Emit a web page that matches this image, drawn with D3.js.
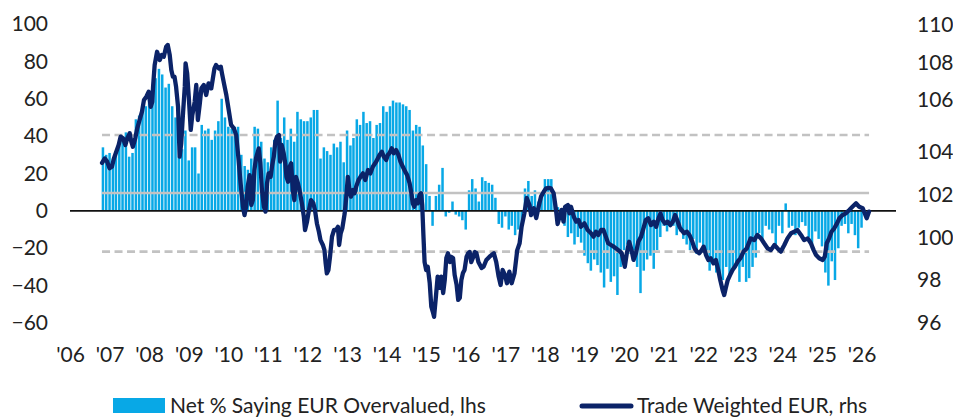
<!DOCTYPE html>
<html>
<head>
<meta charset="utf-8">
<script src="https://cdn.jsdelivr.net/npm/d3@7"></script>
<style>
  body { margin: 0; background: #fff; }
  svg text { font-family: Lato, "Open Sans", sans-serif; fill: #222; }
</style>
</head>
<body>
<svg id="chart" width="953" height="420"></svg>
<script>
// Fund manager survey: net % saying EUR is overvalued (monthly, from Nov 2006)
const surveyStart = "2006-11-01";
const surveyNet = [
  34, 30,
  31, 28, 32, 35, 38, 42, 29, 31, 49, 51, 53, 56,
  61, 65, 71, 76, 73, 66, 68, 56, 50, 29, 33, 43,
  27, 34, 34, 20, 46, 43, 44, 38, 43, 48, 60, 50,
  45, 44, 45, 45, 30, 24, 22, 28, 45, 44, 37, 28,
  26, 34, 38, 59, 39, 50, 38, 44, 37, 53, 49, 48,
  48, 50, 54, 54, 28, 34, 32, 30, 36, 34, 37, 26,
  43, 35, 39, 49, 46, 53, 47, 48, 39, 46, 47, 56,
  53, 56, 59, 58, 58, 57, 56, 54, 43, 46, 45, 35,
  25, 8, -8, 8, 14, 23, -3, -1, 5, -2, -3, -5,
  -10, 11, 17, 12, 5, 18, 16, 15, 14, 7, -7, -9,
  -3, -10, -8, -13, -10, -8, 12, 16, 8, 11, 5, 9,
  17, 17, 17, 7, 2, -3, -8, -14, -12, -18, -14, -17,
  -24, -28, -32, -26, -29, -33, -41, -31, -38, -35, -45, -30,
  -21, -18, -23, -26, -30, -44, -32, -26, -24, -31, -21, -14,
  -8, -11, -7, -8, -13, -11, -15, -18, -21, -15, -23, -17,
  -20, -24, -32, -27, -33, -34, -37, -30, -35, -31, -29, -38,
  -30, -38, -36, -30, -25, -12, -16, -8, -10, -12, -18, -8,
  -12, 4, -9, -8, -13, -9, -6, -8, -14, -20, -11, -15,
  -19, -33, -40, -27, -37, -20, -8, -7, -12, -7, -13, -20,
  -9
];

// Trade weighted EUR index: [decimal year, level]
const twEur = [
  [2006.81,103.49],[2006.88,103.70],[2006.94,103.55],[2007.00,103.24],[2007.06,103.31],[2007.11,103.70],
  [2007.17,104.01],[2007.23,104.27],[2007.28,104.59],[2007.34,104.53],[2007.40,104.27],[2007.45,104.53],
  [2007.51,104.72],[2007.55,104.40],[2007.59,104.20],[2007.65,104.53],[2007.70,104.91],[2007.76,105.23],
  [2007.82,105.55],[2007.87,106.00],[2007.93,106.18],[2007.99,106.45],[2008.04,105.74],[2008.08,105.93],
  [2008.10,106.72],[2008.14,107.89],[2008.20,108.59],[2008.27,108.16],[2008.32,108.42],[2008.37,108.33],
  [2008.43,108.86],[2008.47,108.95],[2008.52,108.42],[2008.56,107.62],[2008.60,107.26],[2008.64,107.26],
  [2008.68,106.72],[2008.73,105.74],[2008.77,103.78],[2008.81,104.33],[2008.85,105.36],[2008.90,106.72],
  [2008.92,107.98],[2008.96,107.44],[2009.00,106.18],[2009.05,104.85],[2009.09,105.42],[2009.15,105.93],
  [2009.19,106.81],[2009.23,105.23],[2009.28,105.87],[2009.32,106.63],[2009.38,106.81],[2009.44,106.27],
  [2009.50,106.90],[2009.57,106.63],[2009.61,107.17],[2009.65,107.71],[2009.69,107.89],[2009.76,107.71],
  [2009.81,107.80],[2009.84,107.44],[2009.89,106.90],[2009.95,106.27],[2010.01,105.62],[2010.07,105.04],
  [2010.14,104.91],[2010.20,104.65],[2010.26,103.63],[2010.31,102.54],[2010.37,101.44],[2010.41,101.05],
  [2010.45,101.44],[2010.49,102.38],[2010.54,102.92],[2010.58,101.52],[2010.62,101.75],[2010.66,103.16],
  [2010.70,103.70],[2010.77,104.14],[2010.81,103.47],[2010.85,102.22],[2010.90,101.44],[2010.94,101.21],
  [2010.98,102.54],[2011.02,103.00],[2011.07,102.84],[2011.11,103.39],[2011.15,103.78],[2011.19,104.40],
  [2011.23,104.59],[2011.28,104.65],[2011.31,103.55],[2011.35,104.27],[2011.40,103.94],[2011.44,103.47],
  [2011.47,102.84],[2011.51,102.61],[2011.55,103.31],[2011.59,103.47],[2011.63,102.22],[2011.67,101.75],
  [2011.71,102.84],[2011.76,102.54],[2011.80,102.22],[2011.86,101.60],[2011.91,100.97],[2011.94,100.35],
  [2011.99,100.74],[2012.04,101.29],[2012.09,101.75],[2012.15,101.60],[2012.19,101.29],[2012.24,100.66],
  [2012.29,100.27],[2012.33,99.88],[2012.39,99.65],[2012.43,99.41],[2012.46,98.79],[2012.49,98.32],
  [2012.53,98.48],[2012.57,99.10],[2012.62,100.04],[2012.67,100.35],[2012.72,100.35],[2012.77,100.50],
  [2012.80,99.65],[2012.84,100.20],[2012.88,100.43],[2012.94,101.13],[2012.98,101.91],[2013.02,102.84],
  [2013.06,102.22],[2013.10,101.91],[2013.15,102.22],[2013.19,102.07],[2013.23,102.38],[2013.29,102.69],
  [2013.34,102.84],[2013.40,103.00],[2013.46,102.69],[2013.53,103.16],[2013.59,103.00],[2013.65,103.31],
  [2013.71,103.47],[2013.76,103.63],[2013.82,103.86],[2013.88,104.01],[2013.93,103.78],[2013.99,103.63],
  [2014.03,103.86],[2014.07,103.94],[2014.13,104.14],[2014.18,103.94],[2014.24,104.08],[2014.30,103.86],
  [2014.35,103.55],[2014.41,103.31],[2014.47,103.08],[2014.52,102.92],[2014.58,102.54],[2014.62,102.14],
  [2014.66,101.60],[2014.70,101.44],[2014.74,101.75],[2014.79,101.60],[2014.83,101.99],[2014.87,102.07],
  [2014.90,101.52],[2014.93,100.12],[2014.96,98.85],[2015.00,98.48],[2015.04,98.63],[2015.09,97.87],
  [2015.13,96.76],[2015.17,96.51],[2015.20,96.29],[2015.25,97.31],[2015.29,98.17],[2015.34,97.64],
  [2015.38,98.17],[2015.43,97.40],[2015.47,98.01],[2015.51,99.04],[2015.55,99.26],[2015.60,98.85],
  [2015.63,99.10],[2015.68,99.04],[2015.72,98.25],[2015.77,97.78],[2015.81,97.08],[2015.85,97.17],
  [2015.89,98.01],[2015.93,98.34],[2015.97,98.48],[2016.02,99.09],[2016.06,99.26],[2016.10,99.32],
  [2016.14,98.85],[2016.18,99.04],[2016.23,99.32],[2016.27,99.27],[2016.32,98.85],[2016.40,98.57],
  [2016.45,98.63],[2016.52,98.95],[2016.60,99.10],[2016.65,99.18],[2016.71,99.26],[2016.77,98.85],
  [2016.83,98.17],[2016.88,97.78],[2016.93,98.48],[2016.99,98.25],[2017.04,97.86],[2017.10,98.40],
  [2017.16,97.86],[2017.23,98.32],[2017.30,99.41],[2017.36,99.73],[2017.41,100.50],[2017.48,101.13],
  [2017.54,101.85],[2017.61,101.52],[2017.65,101.05],[2017.72,101.37],[2017.78,100.91],[2017.84,101.44],
  [2017.90,101.91],[2017.97,102.14],[2018.03,102.30],[2018.10,102.32],[2018.15,102.30],[2018.22,102.07],
  [2018.28,101.29],[2018.32,100.63],[2018.37,100.97],[2018.42,101.29],[2018.47,100.74],[2018.51,101.44],
  [2018.58,101.52],[2018.62,101.13],[2018.66,101.44],[2018.73,100.97],[2018.79,100.74],[2018.85,100.82],
  [2018.91,100.50],[2019.00,100.66],[2019.08,100.35],[2019.16,100.21],[2019.23,100.04],[2019.29,100.27],
  [2019.35,100.12],[2019.42,100.35],[2019.48,100.35],[2019.54,100.04],[2019.60,99.73],[2019.67,99.65],
  [2019.74,99.57],[2019.80,99.49],[2019.88,99.37],[2019.94,99.27],[2020.02,98.63],[2020.07,99.26],
  [2020.13,99.80],[2020.19,99.41],[2020.24,98.95],[2020.30,99.26],[2020.36,99.80],[2020.43,100.04],
  [2020.50,100.50],[2020.55,100.82],[2020.61,100.90],[2020.68,100.58],[2020.75,100.74],[2020.81,100.50],
  [2020.87,100.90],[2020.92,101.13],[2020.97,100.82],[2021.03,100.66],[2021.10,100.74],[2021.17,100.58],
  [2021.23,100.74],[2021.29,101.05],[2021.34,100.82],[2021.40,100.50],[2021.45,100.35],[2021.52,100.20],
  [2021.59,100.27],[2021.65,100.12],[2021.71,99.88],[2021.78,99.49],[2021.84,99.34],[2021.90,99.26],
  [2021.96,99.41],[2022.01,99.57],[2022.07,99.18],[2022.13,98.95],[2022.19,99.03],[2022.26,98.79],
  [2022.32,98.95],[2022.38,98.48],[2022.43,98.01],[2022.49,97.54],[2022.53,97.31],[2022.57,97.64],
  [2022.62,98.01],[2022.68,98.25],[2022.74,98.48],[2022.80,98.63],[2022.87,98.87],[2022.94,99.03],
  [2023.02,99.34],[2023.10,99.49],[2023.20,99.96],[2023.29,99.88],[2023.37,100.12],[2023.46,99.96],
  [2023.54,99.73],[2023.63,99.49],[2023.71,99.41],[2023.80,99.65],[2023.88,99.49],[2023.96,99.34],
  [2024.05,99.65],[2024.13,99.96],[2024.22,100.20],[2024.30,100.27],[2024.38,100.35],[2024.47,100.12],
  [2024.55,99.88],[2024.64,99.96],[2024.72,99.73],[2024.79,99.41],[2024.85,99.18],[2024.93,99.03],
  [2025.02,98.95],[2025.07,99.10],[2025.12,99.73],[2025.18,99.96],[2025.24,100.27],[2025.31,100.43],
  [2025.38,100.66],[2025.44,100.90],[2025.52,101.05],[2025.60,101.13],[2025.69,101.29],[2025.77,101.44],
  [2025.86,101.60],[2025.94,101.44],[2026.03,101.37],[2026.08,101.13],[2026.13,100.90],[2026.19,101.21]
];

const leftTicks = [100, 80, 60, 40, 20, 0, -20, -40, -60];
const rightTicks = [110, 108, 106, 104, 102, 100, 98, 96];
const yearTicks = d3.range(2006, 2027);
// survey average and +/- one standard deviation
const surveyMean = 9.6;
const surveyBand = [40.6, -21.8];

const legendLabels = ["Net % Saying EUR Overvalued, lhs", "Trade Weighted EUR, rhs"];

const colors = { bar: "#08a8e6", line: "#0b2368", ref: "#c2c2c2", zero: "#111" };

function fromDecimalYear(t) {
  const y = Math.floor(t);
  const a = new Date(y, 0, 1), b = new Date(y + 1, 0, 1);
  return new Date(+a + (t - y) * (b - a));
}

const svg = d3.select("#chart");

const x = d3.scaleTime()
  .domain([new Date(2006, 0, 1), new Date(2026, 10, 15)])
  .range([70, 896]);

const yL = d3.scaleLinear().domain([-60, 100]).range([323, 24]);
const yR = d3.scaleLinear()
  .domain([96, 104, 106, 108, 110])
  .range([323, 152, 100, 63, 25]);

const months = surveyNet.map((v, i) => d3.timeMonth.offset(new Date(surveyStart + "T00:00:00"), i));
const linePts = twEur.map(([t, v]) => ({ date: fromDecimalYear(t), value: v }));

const firstDate = linePts[0].date, lastDate = linePts[linePts.length - 1].date;

// bars
const barW = 2.5;
svg.append("g").selectAll("rect")
  .data(surveyNet)
  .join("rect")
  .attr("x", (d, i) => x(months[i]) - barW / 2)
  .attr("width", barW)
  .attr("y", d => Math.min(yL(d), yL(0)))
  .attr("height", d => Math.abs(yL(d) - yL(0)))
  .attr("fill", colors.bar);

// mean and +/- 1 sd reference lines
const refs = svg.append("g");
refs.append("line")
  .attr("x1", x(firstDate)).attr("x2", x(lastDate))
  .attr("y1", yL(surveyMean)).attr("y2", yL(surveyMean))
  .attr("stroke", colors.ref).attr("stroke-width", 2.6);
refs.selectAll("line.band")
  .data(surveyBand)
  .join("line")
  .attr("class", "band")
  .attr("x1", x(firstDate)).attr("x2", x(lastDate))
  .attr("y1", d => yL(d)).attr("y2", d => yL(d))
  .attr("stroke", colors.ref).attr("stroke-width", 2.6)
  .attr("stroke-dasharray", "8,4.5");

// zero line
svg.append("line")
  .attr("x1", x.range()[0]).attr("x2", x.range()[1])
  .attr("y1", yL(0)).attr("y2", yL(0))
  .attr("stroke", colors.zero).attr("stroke-width", 1.6);

// trade weighted EUR
svg.append("path")
  .datum(linePts)
  .attr("fill", "none")
  .attr("stroke", colors.line)
  .attr("stroke-width", 4.3)
  .attr("stroke-linejoin", "round")
  .attr("stroke-linecap", "round")
  .attr("d", d3.line().x(d => x(d.date)).y(d => yR(d.value)));

// axes
const fontSize = 21;
const leftAxis = svg.append("g")
  .attr("transform", "translate(50,0)")
  .call(d3.axisLeft(yL).tickValues(leftTicks).tickSize(0).tickPadding(2).tickFormat(d3.format("d")));
const rightAxis = svg.append("g")
  .attr("transform", "translate(917,0)")
  .call(d3.axisRight(yR).tickValues(rightTicks).tickSize(0).tickPadding(0).tickFormat(d3.format("d")));
const bottomAxis = svg.append("g")
  .attr("transform", "translate(0,330)")
  .call(d3.axisBottom(x)
    .tickValues(yearTicks.map(y => new Date(y, 0, 1)))
    .tickSize(0).tickPadding(17)
    .tickFormat(d => "'" + d3.timeFormat("%y")(d)));

[leftAxis, rightAxis, bottomAxis].forEach(g => {
  g.select(".domain").remove();
  g.selectAll("text").attr("font-size", fontSize).style("font-family", null).attr("fill", "#222");
  g.attr("font-family", null);
});

// legend
const legend = svg.append("g");
legend.append("rect")
  .attr("x", 113).attr("y", 398).attr("width", 52).attr("height", 15)
  .attr("fill", colors.bar);
legend.append("text")
  .attr("x", 170).attr("y", 413)
  .attr("font-size", fontSize)
  .text(legendLabels[0]);
legend.append("line")
  .attr("x1", 582).attr("x2", 631).attr("y1", 406).attr("y2", 406)
  .attr("stroke", colors.line).attr("stroke-width", 5).attr("stroke-linecap", "round");
legend.append("text")
  .attr("x", 637).attr("y", 413)
  .attr("font-size", fontSize)
  .text(legendLabels[1]);
</script>
</body>
</html>
